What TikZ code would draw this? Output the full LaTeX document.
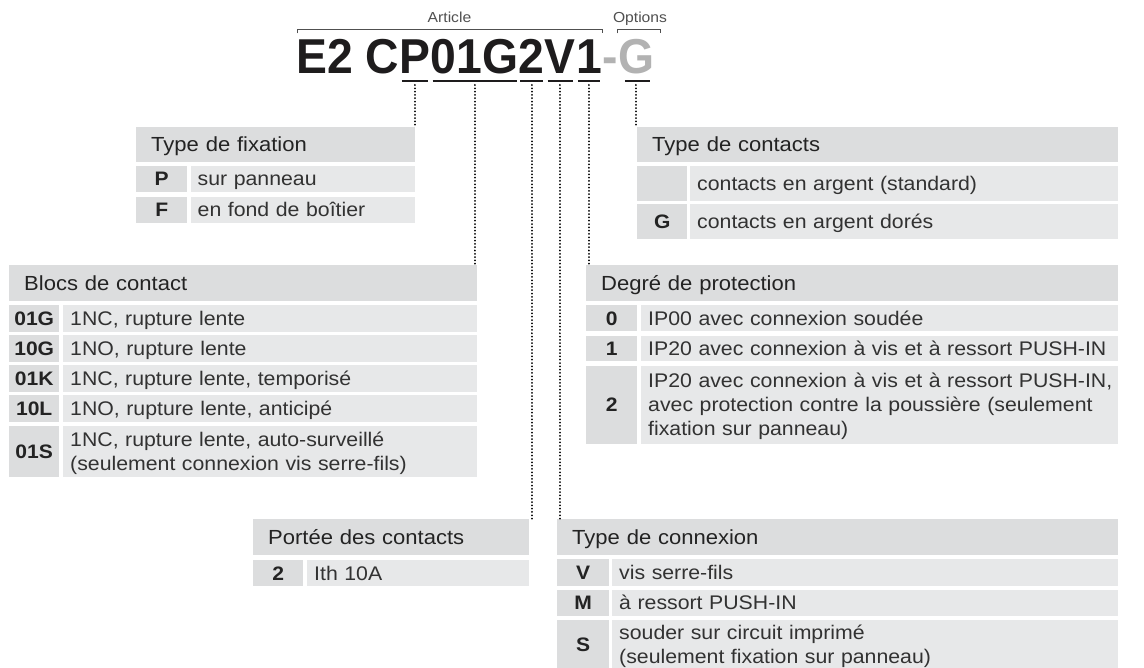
\documentclass[tikz,border=0pt]{standalone}
\usepackage{fontspec}
\setmainfont[FakeStretch=1.08]{Liberation Sans}
\newfontfamily\titlefont[FakeStretch=0.945]{Liberation Sans}
\usetikzlibrary{calc}
\definecolor{cellgray}{RGB}{220,221,222}
\definecolor{descgray}{RGB}{231,232,233}
\definecolor{txtrow}{RGB}{50,50,50}
\definecolor{txthdr}{RGB}{35,35,35}
\definecolor{titleblack}{RGB}{30,28,29}
\definecolor{optgray}{RGB}{178,178,178}
\definecolor{lblgray}{RGB}{80,80,80}
\newcommand\myrowfont{\fontsize{19.7}{24}\selectfont}
\newcommand\myhdrfont{\fontsize{20.4}{24}\selectfont}
\newcommand\mycodefont{\fontsize{19.5}{24}\selectfont\bfseries}
\newcommand\mylblfont{\fontsize{14.5}{16}\selectfont}
\tikzset{
  ttl/.style={inner sep=0pt, font=\titlefont\bfseries\fontsize{49}{49}\selectfont, text=titleblack},
  hdr/.style={anchor=north west, fill=cellgray, inner xsep=15pt, inner ysep=0pt,
    text height=14.5pt, text depth=0pt, align=left, font=\myhdrfont, text=txthdr},
  codecell/.style={anchor=north west, fill=cellgray, inner sep=0pt,
    text height=14pt, text depth=0pt, font=\mycodefont, text=txthdr},
  desccell/.style={anchor=north west, fill=descgray, inner xsep=7pt, inner ysep=0pt,
    text height=14pt, text depth=0pt, align=left, font=\myrowfont, text=txtrow},
  uline/.style={line width=2pt, draw=titleblack},
  dotline/.style={line width=2pt, dash pattern=on 0.01pt off 3.3pt, line cap=round, draw=black},
  brk/.style={line width=1pt, draw=lblgray},
  lbl/.style={inner sep=0pt, font=\mylblfont, text=lblgray}
}
\begin{document}
\begin{tikzpicture}[x=1pt,y=-1pt]
\useasboundingbox (0,0) rectangle (1144,668);
\fill[white] (0,0) rectangle (1144,668);

% ---- title ----
\node[ttl, anchor=base west] (tE) at (296,74) {E2 C};
\node[ttl, anchor=base west] (tP) at (tE.base east) {P};
\node[ttl, anchor=base west] (t01G) at (tP.base east) {01G};
\node[ttl, anchor=base west] (t2) at (t01G.base east) {2};
\node[ttl, anchor=base west] (tV) at (t2.base east) {V};
\node[ttl, anchor=base west] (t1) at (tV.base east) {1};
\node[ttl, anchor=base west, text=optgray] (tdash) at (t1.base east) {-};
\node[ttl, anchor=base west, text=optgray] (tG) at (tdash.base east) {G};

% labels and brackets
\node[lbl, anchor=base] (art) at (449.5,22.5) {Article};
\node[lbl, anchor=base] (opt) at (640,22.5) {Options};
\draw[brk] (297,33.5) -- (297,29.5) -- (602,29.5) -- (602,33.5);
\draw[brk] (617,33.5) -- (617,29.5) -- (660,29.5) -- (660,33.5);

% underlines
\draw[uline] ([xshift=2.5pt,yshift=-7pt]tP.base west) -- ([xshift=-3pt,yshift=-7pt]tP.base east);
\draw[uline] ([xshift=2pt,yshift=-7pt]t01G.base west) -- ([xshift=-2pt,yshift=-7pt]t01G.base east);
\draw[uline] ([xshift=1.5pt,yshift=-7pt]t2.base west) -- ([xshift=-1.5pt,yshift=-7pt]t2.base east);
\draw[uline] ([xshift=3pt,yshift=-7pt]tV.base west) -- ([xshift=-3pt,yshift=-7pt]tV.base east);
\draw[uline] ([xshift=2pt,yshift=-7pt]t1.base west) -- ([xshift=-2pt,yshift=-7pt]t1.base east);
\draw[uline] ([xshift=7pt,yshift=-7pt]tG.base west) -- ([xshift=-4pt,yshift=-7pt]tG.base east);

\coordinate (dP) at ([yshift=-11pt]tP.base);
\coordinate (d01G) at ([yshift=-11pt]t01G.base);
\coordinate (d2) at ([yshift=-11pt]t2.base);
\coordinate (dV) at ([yshift=-11pt]tV.base);
\coordinate (d1) at ([yshift=-11pt]t1.base);
\coordinate (dG) at ([yshift=-11pt]tG.base);

% ---- Type de fixation ----
\node[hdr, text width=249pt, minimum height=35pt] (hFix) at (136,126.5) {Type de fixation};
\node[codecell, minimum width=51pt, minimum height=26pt] (cP) at (136,165.5) {P};
\node[desccell, text width=210.5pt, minimum height=26pt] (rP) at (190.5,165.5) {sur panneau};
\node[codecell, minimum width=51pt, minimum height=26pt] (cF) at (136,196.5) {F};
\node[desccell, text width=210.5pt, minimum height=26pt] (rF) at (190.5,196.5) {en fond de boîtier};

% ---- Type de contacts ----
\node[hdr, text width=451pt, minimum height=35pt] (hCon) at (637,127) {Type de contacts};
\node[codecell, minimum width=50pt, minimum height=35pt] (cStd) at (637,165.5) {};
\node[desccell, text width=414pt, minimum height=35pt] (rStd) at (690,165.5) {contacts en argent (standard)};
\node[codecell, minimum width=50pt, minimum height=35pt] (cGold) at (637,203.5) {G};
\node[desccell, text width=414pt, minimum height=35pt] (rGold) at (690,203.5) {contacts en argent dorés};

% ---- Blocs de contact ----
\node[hdr, text width=438pt, minimum height=35.5pt] (hBlc) at (9,265) {Blocs de contact};
\node[codecell, minimum width=50pt, minimum height=26.5pt] (c01G) at (9,305) {01G};
\node[desccell, text width=400pt, minimum height=26.5pt] (r01G) at (63,305) {1NC, rupture lente};
\node[codecell, minimum width=50pt, minimum height=26.5pt] (c10G) at (9,335) {10G};
\node[desccell, text width=400pt, minimum height=26.5pt] (r10G) at (63,335) {1NO, rupture lente};
\node[codecell, minimum width=50pt, minimum height=26.5pt] (c01K) at (9,365) {01K};
\node[desccell, text width=400pt, minimum height=26.5pt] (r01K) at (63,365) {1NC, rupture lente, temporisé};
\node[codecell, minimum width=50pt, minimum height=26.5pt] (c10L) at (9,395) {10L};
\node[desccell, text width=400pt, minimum height=26.5pt] (r10L) at (63,395) {1NO, rupture lente, anticipé};
\node[codecell, minimum width=50pt, minimum height=51.5pt] (c01S) at (9,425.5) {01S};
\node[desccell, text width=400pt, minimum height=51.5pt, text depth=24pt] (r01S) at (63,425.5) {\mbox{1NC, rupture lente, auto-surveillé}\\\mbox{(seulement connexion vis serre-fils)}};

% ---- Degré de protection ----
\node[hdr, text width=502pt, minimum height=35.5pt] (hDeg) at (586,265) {Degré de protection};
\node[codecell, minimum width=51pt, minimum height=26pt] (cD0) at (586,305) {0};
\node[desccell, text width=463pt, minimum height=26pt] (rD0) at (641,305) {IP00 avec connexion soudée};
\node[codecell, minimum width=51pt, minimum height=25.5pt] (cD1) at (586,335.5) {1};
\node[desccell, text width=463pt, minimum height=25.5pt] (rD1) at (641,335.5) {\mbox{IP20 avec connexion à vis et à ressort PUSH-IN}};
\node[codecell, minimum width=51pt, minimum height=78.5pt] (cD2) at (586,365.5) {2};
\node[desccell, text width=463pt, minimum height=78.5pt, text depth=48pt] (rD2) at (641,365.5) {\mbox{IP20 avec connexion à vis et à ressort PUSH-IN,}\\\mbox{avec protection contre la poussière (seulement}\\\mbox{fixation sur panneau)}};

% ---- Portée des contacts ----
\node[hdr, text width=246pt, minimum height=36pt] (hPor) at (253,519) {Portée des contacts};
\node[codecell, minimum width=50pt, minimum height=26pt] (cPor) at (253,560) {2};
\node[desccell, text width=208pt, minimum height=26pt] (rPor) at (307,560) {Ith 10A};

% ---- Type de connexion ----
\node[hdr, text width=531pt, minimum height=36pt] (hCnx) at (557,519) {Type de connexion};
\node[codecell, minimum width=52pt, minimum height=27.5pt] (cV) at (557,558.5) {V};
\node[desccell, text width=492pt, minimum height=27.5pt] (rV) at (612,558.5) {vis serre-fils};
\node[codecell, minimum width=52pt, minimum height=26.5pt] (cM) at (557,589.5) {M};
\node[desccell, text width=492pt, minimum height=26.5pt] (rM) at (612,589.5) {à ressort PUSH-IN};
\node[codecell, minimum width=52pt, minimum height=48pt] (cS) at (557,620) {S};
\node[desccell, text width=492pt, minimum height=48pt, text depth=24pt] (rS) at (612,620) {\mbox{souder sur circuit imprimé}\\\mbox{(seulement fixation sur panneau)}};

% ---- dotted connectors ----
\draw[dotline] (dP) -- (dP |- hFix.north);
\draw[dotline] (d01G) -- (d01G |- hBlc.north);
\draw[dotline] (d2) -- (d2 |- hPor.north);
\draw[dotline] (dV) -- (dV |- hCnx.north);
\draw[dotline] (d1) -- (d1 |- hDeg.north);
\draw[dotline] (dG) -- (dG |- hCon.north);
\end{tikzpicture}
\end{document}
